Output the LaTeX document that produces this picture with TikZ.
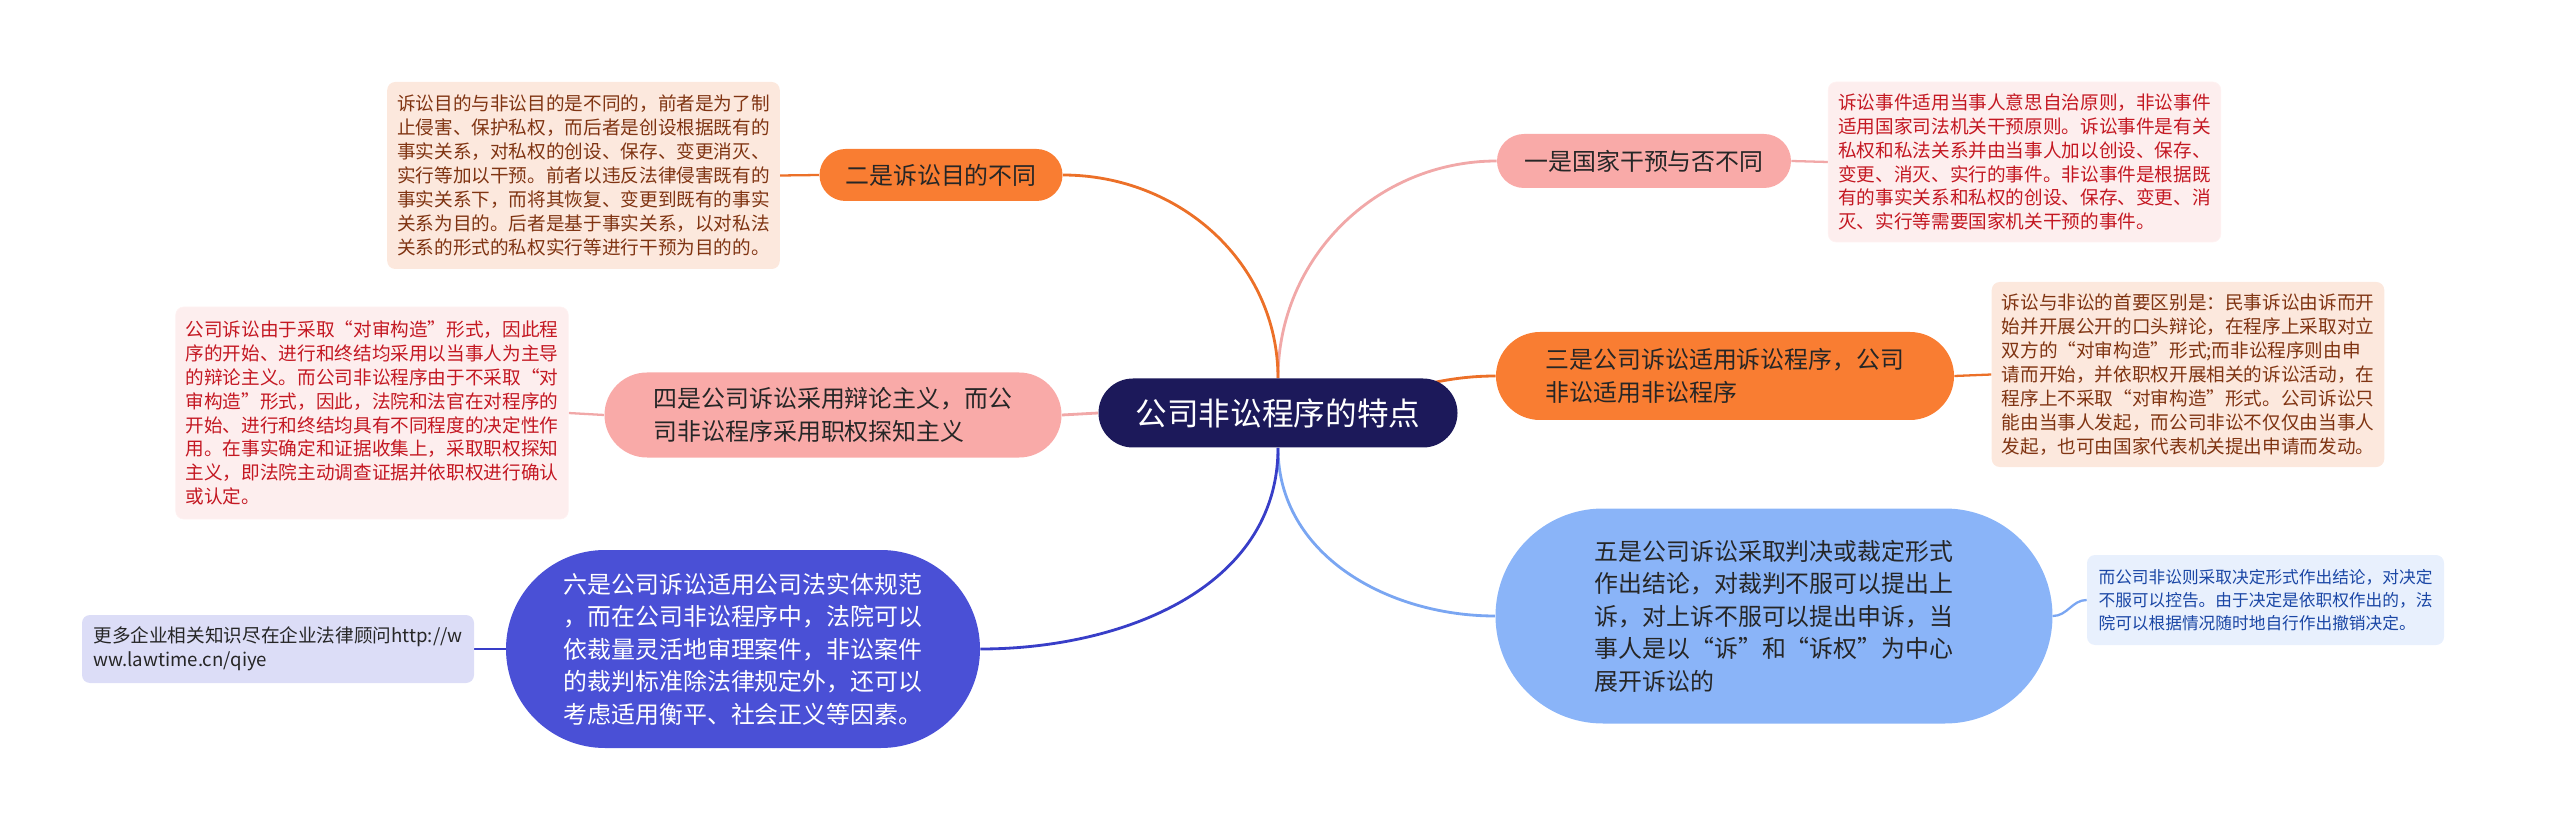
\documentclass[tikz,border=0pt]{standalone}
\usepackage{fontspec}
\setmainfont{Noto Sans CJK SC}
\usepackage{tikz}
\usetikzlibrary{positioning,backgrounds}
\definecolor{rootNavy}{RGB}{28,25,90}
\definecolor{topicPink}{RGB}{249,170,168}
\definecolor{linePink}{RGB}{241,168,168}
\definecolor{topicOrange}{RGB}{249,125,50}
\definecolor{lineOrange}{RGB}{236,112,40}
\definecolor{topicSky}{RGB}{138,180,248}
\definecolor{lineSky}{RGB}{122,166,242}
\definecolor{topicIndigo}{RGB}{74,80,214}
\definecolor{lineIndigo}{RGB}{56,62,200}
\definecolor{notePink}{RGB}{253,238,238}
\definecolor{notePeach}{RGB}{252,232,221}
\definecolor{noteSky}{RGB}{232,240,253}
\definecolor{noteLilac}{RGB}{220,221,247}
\definecolor{textRed}{RGB}{196,24,34}
\definecolor{textBrown}{RGB}{128,52,18}
\definecolor{textBlue}{RGB}{26,70,165}
\definecolor{textDark}{RGB}{38,38,38}

\begin{document}
\begin{tikzpicture}[
        root/.style={fill=rootNavy,text=white,rounded corners=0.69cm,minimum width=7.18cm,
                     minimum height=1.38cm,font=\fontsize{18}{22}\selectfont},
        topic/.style={align=left,text=textDark,inner sep=0pt,font=\fontsize{13.6}{18.5}\selectfont},
        note/.style={rounded corners=0.16cm,align=left,inner sep=0.2cm,minimum width=7.84cm,
                     font=\fontsize{10.6}{13.6}\selectfont},
        branch/.style={line width=1.6pt},
        twig/.style={line width=1.3pt}
    ]
        \useasboundingbox (0,0) rectangle (51.2,-16.46);

        \node[root] (root) at (25.56,-8.26) {公司非讼程序的特点};

        % right side
        \node[topic,fill=topicPink,rounded corners=0.54cm,minimum width=5.88cm,minimum height=1.08cm]
            (one) at (32.88,-3.22) {一是国家干预与否不同};
        \node[note,fill=notePink,draw=notePink!80!red!20,text=textRed,minimum height=3.2cm]
            (n1) at (40.49,-3.24) {诉讼事件适用当事人意思自治原则，非讼事件\\
            适用国家司法机关干预原则。诉讼事件是有关\\
            私权和私法关系并由当事人加以创设、保存、\\
            变更、消灭、实行的事件。非讼事件是根据既\\
            有的事实关系和私权的创设、保存、变更、消\\
            灭、实行等需要国家机关干预的事件。};

        \node[topic,fill=topicOrange,rounded corners=0.88cm,minimum width=9.16cm,minimum height=1.76cm]
            (three) at (34.5,-7.52) {三是公司诉讼适用诉讼程序，公司\\非讼适用非讼程序};
        \node[note,fill=notePeach,text=textBrown,minimum height=3.7cm]
            (n3) at (43.76,-7.49) {诉讼与非讼的首要区别是：民事诉讼由诉而开\\
            始并开展公开的口头辩论，在程序上采取对立\\
            双方的“对审构造”形式;而非讼程序则由申\\
            请而开始，并依职权开展相关的诉讼活动，在\\
            程序上不采取“对审构造”形式。公司诉讼只\\
            能由当事人发起，而公司非讼不仅仅由当事人\\
            发起，也可由国家代表机关提出申请而发动。};

        \node[topic,fill=topicSky,rounded corners=2.15cm,minimum width=11.14cm,minimum height=4.3cm]
            (five) at (35.48,-12.32) {五是公司诉讼采取判决或裁定形式\\
            作出结论，对裁判不服可以提出上\\
            诉，对上诉不服可以提出申诉，当\\
            事人是以“诉”和“诉权”为中心\\
            展开诉讼的};
        \node[note,fill=noteSky,text=textBlue,minimum width=7.14cm,minimum height=1.8cm,
              font=\fontsize{9.5}{13}\selectfont]
            (n5) at (45.31,-12.0) {而公司非讼则采取决定形式作出结论，对决定\\
            不服可以控告。由于决定是依职权作出的，法\\
            院可以根据情况随时地自行作出撤销决定。};

        % left side
        \node[topic,fill=topicOrange,rounded corners=0.52cm,minimum width=4.86cm,minimum height=1.04cm]
            (two) at (18.82,-3.5) {二是诉讼目的不同};
        \node[note,fill=notePeach,text=textBrown,minimum height=3.74cm]
            (n2) at (11.67,-3.51) {诉讼目的与非讼目的是不同的，前者是为了制\\
            止侵害、保护私权，而后者是创设根据既有的\\
            事实关系，对私权的创设、保存、变更消灭、\\
            实行等加以干预。前者以违反法律侵害既有的\\
            事实关系下，而将其恢复、变更到既有的事实\\
            关系为目的。后者是基于事实关系，以对私法\\
            关系的形式的私权实行等进行干预为目的的。};

        \node[topic,fill=topicPink,rounded corners=0.85cm,minimum width=9.14cm,minimum height=1.7cm]
            (four) at (16.66,-8.3) {四是公司诉讼采用辩论主义，而公\\司非讼程序采用职权探知主义};
        \node[note,fill=notePink,draw=notePink!80!red!20,text=textRed,minimum height=4.24cm]
            (n4) at (7.44,-8.26) {公司诉讼由于采取“对审构造”形式，因此程\\
            序的开始、进行和终结均采用以当事人为主导\\
            的辩论主义。而公司非讼程序由于不采取“对\\
            审构造”形式，因此，法院和法官在对程序的\\
            开始、进行和终结均具有不同程度的决定性作\\
            用。在事实确定和证据收集上，采取职权探知\\
            主义，即法院主动调查证据并依职权进行确认\\
            或认定。};

        \node[topic,fill=topicIndigo,text=white,rounded corners=1.98cm,minimum width=9.48cm,minimum height=3.96cm]
            (six) at (14.86,-12.98) {六是公司诉讼适用公司法实体规范\\
            ，而在公司非讼程序中，法院可以\\
            依裁量灵活地审理案件，非讼案件\\
            的裁判标准除法律规定外，还可以\\
            考虑适用衡平、社会正义等因素。};
        \node[note,fill=noteLilac,text=textDark,minimum height=1.36cm]
            (n6) at (5.56,-12.98) {更多企业相关知识尽在企业法律顾问http://w\\ww.lawtime.cn/qiye};

        % connectors
        \begin{scope}[on background layer]
            \draw[branch,linePink] (root.north) to[out=90,in=180] (one.west);
            \draw[branch,lineOrange] (root.center) to[out=0,in=180] (three.west);
            \draw[branch,lineSky] (root.south) to[out=-90,in=180] (five.west);
            \draw[branch,lineOrange] (root.north) to[out=90,in=0] (two.east);
            \draw[branch,linePink] (root.west) -- (four.east);
            \draw[branch,lineIndigo] (root.south) to[out=-90,in=0] (six.east);
            \draw[twig,linePink] (one.east) -- (n1.west);
            \draw[twig,lineOrange] (three.east) -- (n3.west);
            \draw[twig,lineSky] (five.east) to[out=0,in=180] (n5.west);
            \draw[twig,lineOrange] (two.west) -- (n2.east);
            \draw[twig,linePink] (four.west) -- (n4.east);
            \draw[twig,lineIndigo] (six.west) -- (n6.east);
        \end{scope}
    \end{tikzpicture}
\end{document}
